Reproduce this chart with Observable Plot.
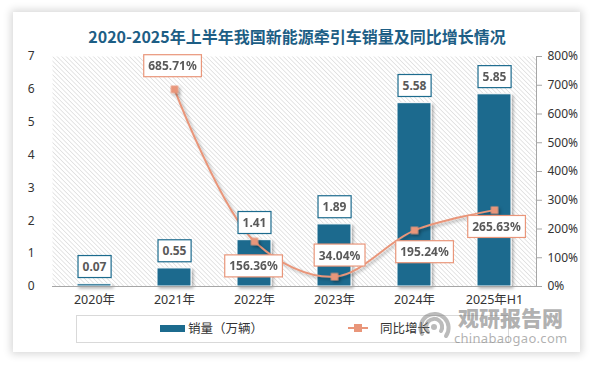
<!DOCTYPE html>
<html><head><meta charset="utf-8">
<script src="https://cdn.jsdelivr.net/npm/d3@7"></script>
<script src="https://cdn.jsdelivr.net/npm/@observablehq/plot@0.6"></script>
<style>
body{margin:0;background:#fff;width:594px;height:366px;overflow:hidden;position:relative;font-family:"Noto Sans","Noto Sans CJK SC",sans-serif;}
#card{position:absolute;left:13px;top:12px;width:567px;height:340px;background:#fff;box-shadow:0 0 8px 2px rgba(0,0,0,0.16);}
#title{position:absolute;left:0;top:24px;width:594px;text-align:center;font-family:"Noto Sans CJK SC",sans-serif;font-size:16px;font-weight:bold;color:#1d5e85;line-height:24px;}
#chart{position:absolute;left:0;top:0;}
#legend{position:absolute;left:76px;top:315px;width:433px;height:28px;border:1px solid #d9d9d9;box-sizing:border-box;font-family:"Noto Sans CJK SC",sans-serif;font-size:12.5px;color:#333;}
#legend span{position:absolute;}
#wm{position:absolute;left:412px;top:304px;width:160px;height:44px;color:rgba(110,110,110,0.55);}
</style></head>
<body>
<div id="card"></div>
<div id="title">2020-2025年上半年我国新能源牵引车销量及同比增长情况</div>
<div id="chart"></div>
<div id="legend">
  <span style="left:83px;top:9px;width:25px;height:7px;background:#1c6b8e"></span>
  <span style="left:111px;top:3px;line-height:18px">销量（万辆）</span>
  <span style="left:271px;top:11px;width:20px;height:2px;background:#e9967a"></span>
  <span style="left:277px;top:8px;width:8px;height:8px;background:#e9967a"></span>
  <span style="left:303px;top:3px;line-height:18px">同比增长</span>
</div>
<div id="wm">
  <svg width="40" height="40" style="position:absolute;left:2px;top:2px">
    <g fill="none" stroke="rgba(120,120,120,0.5)" stroke-width="4" stroke-linecap="round">
      <path d="M8,28 A14,14 0 1 1 32,30"/>
      <path d="M14,26 A8,8 0 1 1 27,25"/>
    </g>
    <circle cx="20" cy="21" r="3" fill="rgba(120,120,120,0.5)"/>
  </svg>
  <div style="position:absolute;left:46px;top:0px;font-family:'Noto Sans CJK SC',sans-serif;font-size:21px;font-weight:900;line-height:26px;">观研报告网</div>
  <div style="position:absolute;left:42px;top:26px;font-family:'Noto Sans',sans-serif;font-size:13px;line-height:16px;letter-spacing:0.3px;">chinabaogao.com</div>
</div>
<script>
const categories = ["2020年","2021年","2022年","2023年","2024年","2025年H1"];
const sales = [0.07, 0.55, 1.41, 1.89, 5.58, 5.85];
const growth = [null, 685.71, 156.36, 34.04, 195.24, 265.63];
const leftTicks = [0,1,2,3,4,5,6,7];
const rightTicks = [0,100,200,300,400,500,600,700,800];

const Y_MAX = 7, PCT_MAX = 800, k = Y_MAX / PCT_MAX;
const bars = categories.map((c,i)=>({cat:c, v:sales[i]}));
const pts = categories.map((c,i)=>({cat:c, g:growth[i]})).filter(d=>d.g!=null);
// label offsets (layout only), per growth point in order
const growthLabelOffsets = [[-2,-23],[-1,25],[5,-21],[10,22],[2,17]];

const font = "'Noto Sans','Noto Sans CJK SC',sans-serif";
const marks = [
  Plot.frame({fill:"url(#hatch)", stroke:null}),
  Plot.axisY(leftTicks,{anchor:"left", tickSize:0, tickPadding:18, fontSize:12, color:"#333"}),
  Plot.axisY(rightTicks.map(p=>p*k),{anchor:"right", tickSize:5, tickPadding:6, fontSize:12, stroke:"#a6a6a6", color:"#333", tickFormat:d=>Math.round(d/k)+"%"}),
  Plot.axisX({tickSize:0, tickPadding:9, fontSize:12.5, color:"#333"}),
  Plot.barY(bars,{x:"cat", y:"v", fill:"#1c6b8e", stroke:"#fff", strokeWidth:1, className:"bars"}),
  Plot.ruleY([0],{stroke:"#a6a6a6", strokeWidth:1}),
  Plot.frame({anchor:"right", stroke:"#a6a6a6"}),
  Plot.line(pts,{x:"cat", y:d=>d.g*k, curve:"catmull-rom", stroke:"#e9967a", strokeWidth:2, className:"gline"}),
  Plot.dot(pts,{x:"cat", y:d=>d.g*k, symbol:"square", r:4.2, fill:"#e9967a", stroke:null, className:"gline"}),
  Plot.text(bars,{x:"cat", y:"v", text:d=>d.v.toFixed(2), dy:-17, fontSize:12, fontWeight:"bold", fill:"#595959", className:"barlabel"})
];
pts.forEach((p,i)=>{
  const [dx,dy] = growthLabelOffsets[i];
  marks.push(Plot.text([p],{x:"cat", y:d=>d.g*k, text:d=>d.g.toFixed(2)+"%", dx, dy, fontSize:12, fontWeight:"bold", fill:"#595959", className:"glabel"}));
});

const svg = Plot.plot({
  width:594, height:312,
  marginLeft:52, marginRight:58, marginTop:56, marginBottom:26,
  style:{fontFamily:font, background:"transparent", overflow:"visible"},
  x:{domain:categories, paddingInner:0.58, paddingOuter:0.29, label:null},
  y:{domain:[0,Y_MAX], label:null},
  marks
});
document.getElementById("chart").appendChild(svg);

const s = d3.select(svg);
s.insert("defs",":first-child").html(`
  <pattern id="hatch" patternUnits="userSpaceOnUse" width="3.2" height="3.2" patternTransform="rotate(-45)">
    <rect width="3.2" height="3.2" fill="#fff"/>
    <line x1="0" y1="0" x2="0" y2="3.2" stroke="#cccccc" stroke-width="1"/>
  </pattern>
  <filter id="shadow" x="-20%" y="-20%" width="140%" height="140%">
    <feDropShadow dx="2" dy="2" stdDeviation="1.5" flood-color="#000" flood-opacity="0.3"/>
  </filter>`);
s.selectAll("g.bars, g.gline").attr("filter","url(#shadow)");

function boxes(cls, stroke){
  s.selectAll(`g.${cls} text`).each(function(){
    const b = this.getBBox();
    const padX = 4.5, padY = 2.5;
    const r = d3.select(this.parentNode).insert("rect", () => this)
      .attr("x", b.x - padX).attr("y", b.y - padY)
      .attr("width", b.width + 2*padX).attr("height", b.height + 2*padY)
      .attr("fill","#fff").attr("stroke", stroke).attr("stroke-width",1.2);
    const t = this.getAttribute("transform");
    if (t) r.attr("transform", t);
  });
}
boxes("barlabel","#1c6b8e");
boxes("glabel","#e9967a");
</script>
</body></html>
